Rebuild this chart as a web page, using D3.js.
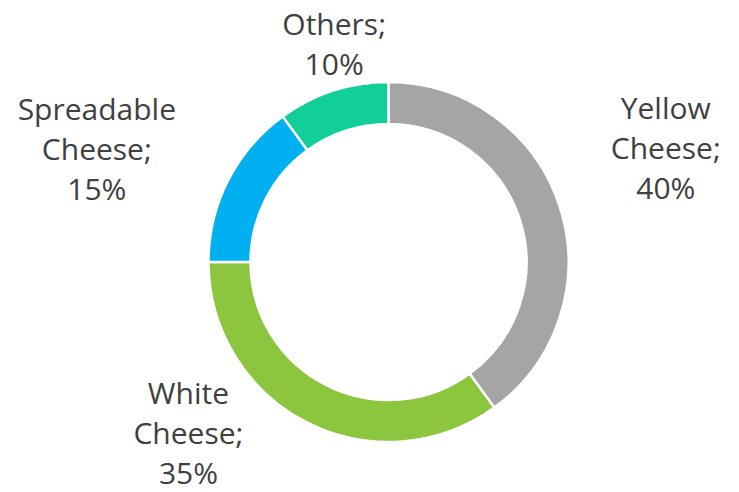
<!DOCTYPE html>
<html>
<head>
<meta charset="utf-8">
<script src="https://cdn.jsdelivr.net/npm/d3@7"></script>
<style>
  body { margin: 0; background: #fff; }
  text { font-family: "Open Sans", Lato, sans-serif; fill: #404040; }
</style>
</head>
<body>
<div id="chart"></div>
<script>
// Donut chart - cheese market share

var categories = ["Yellow Cheese", "White Cheese", "Spreadable Cheese", "Others"];
var shares = [40, 35, 15, 10];
var colors = ["#A5A5A5", "#8CC63F", "#00B0F0", "#12CF99"];

// label line splits (how Excel wraps them)
var labelLines = [
    ["Yellow", "Cheese;", "40%"],
    ["White", "Cheese;", "35%"],
    ["Spreadable", "Cheese;", "15%"],
    ["Others;", "10%"]
];

var svgWidth = 739;
var svgHeight = 492;

var cx = 388.5, cy = 262;
var outerR = 180, innerR = 138;

var svg = d3.select("#chart")
    .append("svg")
        .attr("width", svgWidth)
        .attr("height", svgHeight);

var g = svg.append("g")
    .attr("transform", "translate(" + cx + "," + cy + ")");

var pie = d3.pie()
    .sort(null)
    .value(function(d) { return d; });

var arc = d3.arc()
    .innerRadius(innerR)
    .outerRadius(outerR);

var labelArc = d3.arc()
    .innerRadius(260)
    .outerRadius(260);

var arcs = pie(shares);

g.selectAll("path")
    .data(arcs)
    .enter().append("path")
        .attr("d", arc)
        .attr("fill", function(d, i) { return colors[i]; })
        .attr("stroke", "#fff")
        .attr("stroke-width", 2.5);

// nudges to match Excel's best-fit label placement
var nudges = [[30, -33], [-82, -60], [-60, 5], [26, 29]];
var fontSize = 30, lineH = 40;

var labels = g.selectAll(".lbl")
    .data(arcs)
    .enter().append("text")
        .attr("class", "lbl")
        .attr("text-anchor", "middle")
        .style("font-size", fontSize + "px")
        .attr("transform", function(d, i) {
            var c = labelArc.centroid(d);
            return "translate(" + (c[0] + nudges[i][0]) + "," + (c[1] + nudges[i][1]) + ")";
        });

labels.each(function(d, i) {
    var lines = labelLines[i];
    var first = -(lines.length - 1) * lineH / 2 + fontSize * 0.36;
    d3.select(this).selectAll("tspan")
        .data(lines)
        .enter().append("tspan")
            .attr("x", 0)
            .attr("y", function(l, j) { return first + j * lineH; })
            .text(function(l) { return l; });
});
</script>
</body>
</html>
